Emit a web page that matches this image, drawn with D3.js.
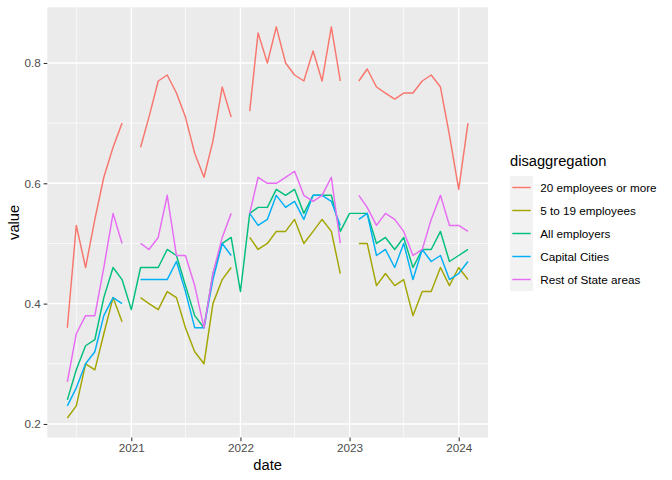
<!DOCTYPE html>
<html>
<head>
<meta charset="utf-8">
<script src="https://cdn.jsdelivr.net/npm/d3@7"></script>
<style>
  body { margin: 0; background: #fff; }
  text { font-family: "Liberation Sans", Arial, Helvetica, sans-serif; }
</style>
</head>
<body>
<div id="chart"></div>
<script>
// monthly series, Jun 2020 .. Feb 2024 (null = missing month)
const startMonth = "2020-06-01";
const seriesNames = ["20 employees or more", "5 to 19 employees", "All employers", "Capital Cities", "Rest of State areas"];
const seriesColors = ["#F8766D", "#A3A500", "#00BF7D", "#00B0F6", "#E76BF3"];

const emp20 = [0.36, 0.53, 0.46, 0.54, 0.61, 0.66, 0.70,
  null, 0.66, 0.71, 0.77, 0.78, 0.75, 0.71, 0.65, 0.61, 0.67, 0.76, 0.71,
  null, 0.72, 0.85, 0.80, 0.86, 0.80, 0.78, 0.77, 0.82, 0.77, 0.86, 0.77,
  null, 0.77, 0.79, 0.76, 0.75, 0.74, 0.75, 0.75, 0.77, 0.78, 0.76, 0.68,
  0.59, 0.70];
const emp5to19 = [0.21, 0.23, 0.30, 0.29, 0.35, 0.41, 0.37,
  null, 0.41, 0.40, 0.39, 0.42, 0.41, 0.36, 0.32, 0.30, 0.40, 0.44, 0.46,
  null, 0.51, 0.49, 0.50, 0.52, 0.52, 0.54, 0.50, 0.52, 0.54, 0.52, 0.45,
  null, 0.50, 0.50, 0.43, 0.45, 0.43, 0.44, 0.38, 0.42, 0.42, 0.46, 0.43,
  0.46, 0.44];
const allEmployers = [0.24, 0.29, 0.33, 0.34, 0.41, 0.46, 0.44,
  0.39, 0.46, 0.46, 0.46, 0.49, 0.48, 0.43, 0.38, 0.36, 0.45, 0.50, 0.51,
  0.42, 0.55, 0.56, 0.56, 0.59, 0.58, 0.59, 0.55, 0.58, 0.58, 0.58, 0.52,
  0.55, 0.55, 0.55, 0.50, 0.51, 0.49, 0.51, 0.46, 0.49, 0.49, 0.52, 0.47,
  0.48, 0.49];
const capitalCities = [0.23, 0.26, 0.30, 0.32, 0.38, 0.41, 0.40,
  null, 0.44, 0.44, 0.44, 0.44, 0.47, 0.42, 0.36, 0.36, 0.44, 0.50, 0.48,
  null, 0.55, 0.53, 0.54, 0.58, 0.56, 0.57, 0.54, 0.58, 0.58, 0.57, 0.53,
  null, 0.54, 0.55, 0.48, 0.49, 0.46, 0.50, 0.44, 0.49, 0.47, 0.48, 0.44,
  0.45, 0.47];
const restOfState = [0.27, 0.35, 0.38, 0.38, 0.46, 0.55, 0.50,
  null, 0.50, 0.49, 0.51, 0.58, 0.48, 0.48, 0.43, 0.36, 0.45, 0.51, 0.55,
  null, 0.55, 0.61, 0.60, 0.60, 0.61, 0.62, 0.58, 0.57, 0.58, 0.61, 0.50,
  null, 0.58, 0.56, 0.53, 0.55, 0.54, 0.52, 0.48, 0.49, 0.54, 0.58, 0.53,
  0.53, 0.52];

const yTicks = [0.2, 0.4, 0.6, 0.8];
const yMinor = [0.3, 0.5, 0.7];
const xTickYears = [2021, 2022, 2023, 2024];
const xMinorDates = ["2020-07-01", "2021-07-01", "2022-07-01", "2023-07-01"];

const allValues = [emp20, emp5to19, allEmployers, capitalCities, restOfState];

const width = 672, height = 480;
const panel = { left: 47.3, right: 488, top: 7.3, bottom: 437.5 };

const parse = d3.utcParse("%Y-%m-%d");
const start = parse(startMonth);
const dates = emp20.map((_, i) => d3.utcMonth.offset(start, i));

const series = seriesNames.map((name, k) => ({
  name,
  color: seriesColors[k],
  values: allValues[k].map((v, i) => ({ date: dates[i], v }))
}));

// ggplot-style 5% expansion
const xExt = d3.extent(dates);
const xPad = (xExt[1] - xExt[0]) * 0.05;
const x = d3.scaleUtc()
  .domain([new Date(+xExt[0] - xPad), new Date(+xExt[1] + xPad)])
  .range([panel.left, panel.right]);

const vals = allValues.flat().filter(v => v != null);
const yExt = d3.extent(vals);
const yPad = (yExt[1] - yExt[0]) * 0.05;
const y = d3.scaleLinear()
  .domain([yExt[0] - yPad, yExt[1] + yPad])
  .range([panel.bottom, panel.top]);

const svg = d3.select("#chart").append("svg")
  .attr("width", width)
  .attr("height", height);

svg.append("rect")
  .attr("x", panel.left).attr("y", panel.top)
  .attr("width", panel.right - panel.left)
  .attr("height", panel.bottom - panel.top)
  .attr("fill", "#EBEBEB");

const grid = svg.append("g");
grid.selectAll(".ymin").data(yMinor).enter().append("line")
  .attr("x1", panel.left).attr("x2", panel.right)
  .attr("y1", d => y(d)).attr("y2", d => y(d))
  .attr("stroke", "#fff").attr("stroke-width", 0.7);
grid.selectAll(".xmin").data(xMinorDates).enter().append("line")
  .attr("x1", d => x(parse(d))).attr("x2", d => x(parse(d)))
  .attr("y1", panel.top).attr("y2", panel.bottom)
  .attr("stroke", "#fff").attr("stroke-width", 0.7);
grid.selectAll(".ymaj").data(yTicks).enter().append("line")
  .attr("x1", panel.left).attr("x2", panel.right)
  .attr("y1", d => y(d)).attr("y2", d => y(d))
  .attr("stroke", "#fff").attr("stroke-width", 1.4);
grid.selectAll(".xmaj").data(xTickYears).enter().append("line")
  .attr("x1", d => x(Date.UTC(d, 0, 1))).attr("x2", d => x(Date.UTC(d, 0, 1)))
  .attr("y1", panel.top).attr("y2", panel.bottom)
  .attr("stroke", "#fff").attr("stroke-width", 1.4);

const line = d3.line()
  .defined(d => d.v != null)
  .x(d => x(d.date))
  .y(d => y(d.v));

svg.append("g").selectAll("path")
  .data(series)
  .enter().append("path")
  .attr("d", d => line(d.values))
  .attr("fill", "none")
  .attr("stroke", d => d.color)
  .attr("stroke-width", 1.45)
  .attr("stroke-linejoin", "round");

// axes
const yAxis = svg.append("g")
  .attr("transform", `translate(${panel.left},0)`)
  .call(d3.axisLeft(y).tickValues(yTicks).tickSize(3.67).tickPadding(2.9).tickFormat(d3.format(".1f")));
const xAxis = svg.append("g")
  .attr("transform", `translate(0,${panel.bottom})`)
  .call(d3.axisBottom(x).tickValues(xTickYears.map(d => new Date(Date.UTC(d, 0, 1))))
    .tickSize(3.67).tickPadding(2.9).tickFormat(d3.utcFormat("%Y")));
[xAxis, yAxis].forEach(a => {
  a.select(".domain").remove();
  a.selectAll(".tick line").attr("stroke", "#333333").attr("stroke-width", 1.07);
  a.selectAll(".tick text").attr("fill", "#4D4D4D")
    .style("font-size", "11.7px")
    .style("font-family", "'Liberation Sans', Arial, Helvetica, sans-serif");
});

svg.append("text")
  .attr("x", (panel.left + panel.right) / 2).attr("y", 470)
  .attr("text-anchor", "middle")
  .style("font-size", "14.7px")
  .text("date");

svg.append("text")
  .attr("transform", `translate(19,${(panel.top + panel.bottom) / 2}) rotate(-90)`)
  .attr("text-anchor", "middle")
  .style("font-size", "14.7px")
  .text("value");

// legend
const legend = svg.append("g").attr("transform", "translate(510,0)");
legend.append("text")
  .attr("x", 0).attr("y", 166)
  .style("font-size", "14.7px")
  .text("disaggregation");

const keyTop = 176, keySize = 23;
const item = legend.selectAll(".key")
  .data(series)
  .enter().append("g")
  .attr("transform", (d, i) => `translate(0,${keyTop + i * keySize})`);
item.append("rect")
  .attr("width", keySize).attr("height", keySize)
  .attr("fill", "#F2F2F2");
item.append("line")
  .attr("x1", 2.3).attr("x2", keySize - 2.3)
  .attr("y1", keySize / 2).attr("y2", keySize / 2)
  .attr("stroke", d => d.color)
  .attr("stroke-width", 1.45);
item.append("text")
  .attr("x", keySize + 7.3).attr("y", keySize / 2)
  .attr("dy", "0.35em")
  .style("font-size", "11.7px")
  .text(d => d.name);
</script>
</body>
</html>
